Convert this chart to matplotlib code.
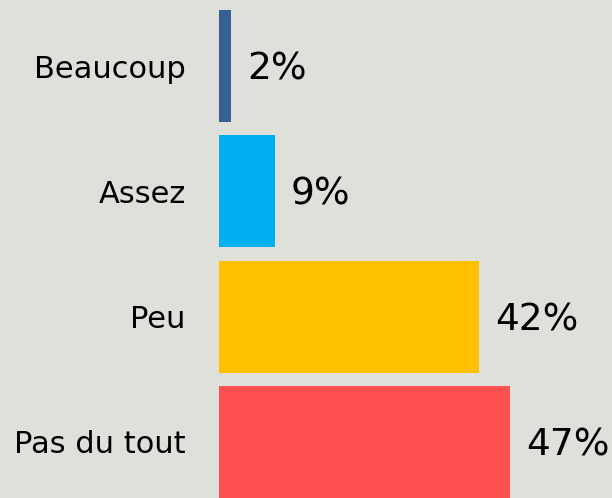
import matplotlib
matplotlib.use("Agg")
import matplotlib.pyplot as plt

# data
categories = ["Beaucoup", "Assez", "Peu", "Pas du tout"]
values = [2, 9, 42, 47]
colors = ["#365F92", "#00B0F0", "#FFC000", "#FF5050"]
value_labels = ["2%", "9%", "42%", "47%"]

bg = "#E0E0DB"

fig = plt.figure(figsize=(6.12, 4.98), dpi=100, facecolor=bg)
# axes starts where the bars start, spans to the right edge
ax = fig.add_axes([219 / 612, 0, 393 / 612, 1], facecolor=bg)

pos = list(range(len(categories)))
ax.barh(pos, values, height=0.894, color=colors)

ax.set_xlim(0, 393 / 6.19)
ax.set_ylim(3.447, -0.527)

ax.set_yticks(pos)
ax.set_yticklabels(categories, fontsize=22)
ax.tick_params(axis="y", length=0, pad=24)
ax.set_xticks([])
for s in ax.spines.values():
    s.set_visible(False)

for p, v, lab in zip(pos, values, value_labels):
    ax.annotate(lab, (v, p), xytext=(11.5, -2.5), textcoords="offset points",
                ha="left", va="center", fontsize=27)

fig.savefig("out.png", dpi=100, facecolor=bg)
